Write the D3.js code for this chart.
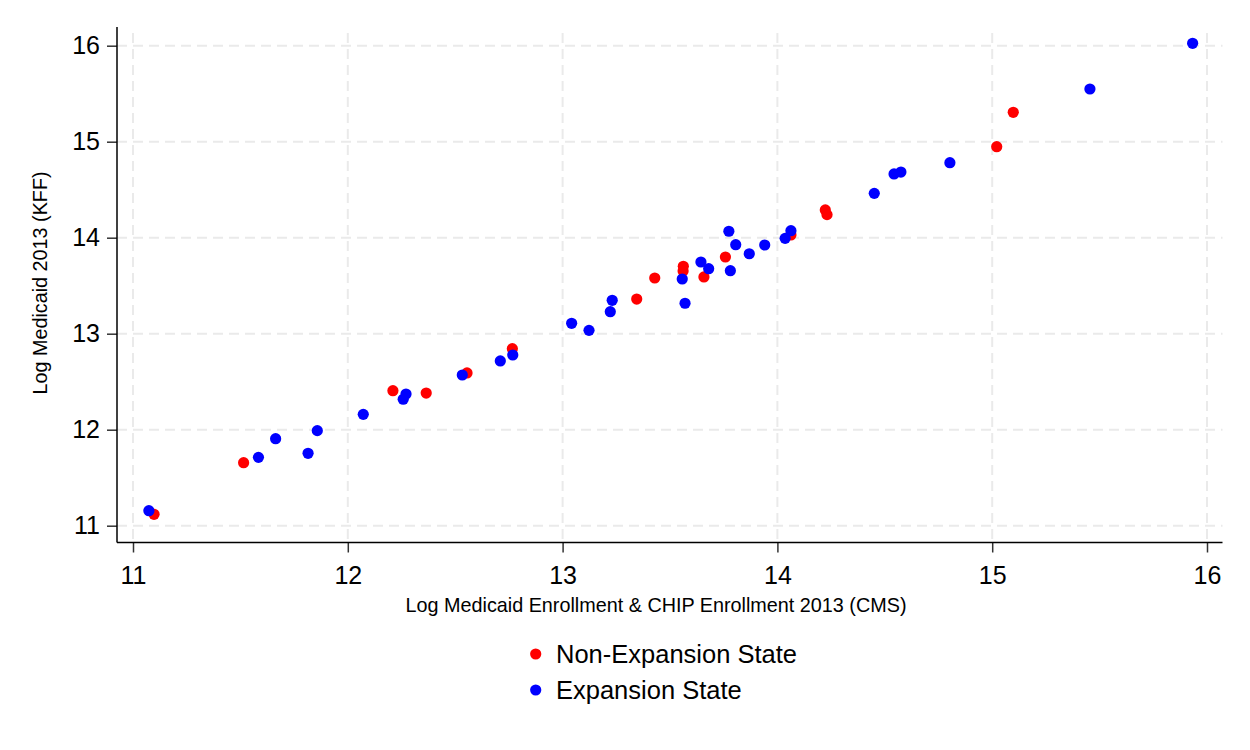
<!DOCTYPE html>
<html>
<head>
<meta charset="utf-8">
<script src="https://cdn.jsdelivr.net/npm/d3@7"></script>
<style>
  body { margin: 0; background: #fff; }
  text { font-family: "Liberation Sans", Arial, sans-serif; fill: #000; }
</style>
</head>
<body>
<div id="chart"></div>
<script>
var width = 1250;
var height = 750;

// Non-expansion states: [log CMS enrollment, log KFF medicaid]
var nonExpansion = [
    [11.098, 11.119], [11.515, 11.656], [12.210, 12.406], [12.365, 12.382],
    [12.555, 12.591], [12.766, 12.844], [13.345, 13.361], [13.429, 13.580],
    [13.562, 13.702], [13.561, 13.653], [13.658, 13.591], [13.758, 13.799],
    [14.063, 14.028], [14.223, 14.289], [14.231, 14.240], [15.021, 14.948],
    [15.098, 15.306]
];

// Expansion states
var expansion = [
    [11.074, 11.156], [11.584, 11.712], [11.664, 11.906], [11.815, 11.754],
    [11.858, 11.990], [12.072, 12.160], [12.271, 12.372], [12.258, 12.317],
    [12.533, 12.570], [12.710, 12.716], [12.768, 12.778], [13.042, 13.108],
    [13.123, 13.035], [13.222, 13.229], [13.231, 13.348], [13.557, 13.570],
    [13.570, 13.317], [13.644, 13.747], [13.680, 13.677], [13.774, 14.067],
    [13.806, 13.927], [13.781, 13.656], [13.869, 13.833], [13.941, 13.924],
    [14.036, 13.993], [14.063, 14.073], [14.451, 14.462], [14.543, 14.664],
    [14.575, 14.684], [14.803, 14.781], [15.455, 15.549], [15.933, 16.025]
];

var xTicks = [11, 12, 13, 14, 15, 16];
var yTicks = [11, 12, 13, 14, 15, 16];
var legendLabels = ["Non-Expansion State", "Expansion State"];
var colors = ["#ff0000", "#0000ff"];

var plotLeft = 117;
var plotRight = 1222.5;
var plotTop = 27;
var plotBottom = 542.5;

var x = d3.scaleLinear().domain([11, 16]).range([133, 1207]);
var y = d3.scaleLinear().domain([11, 16]).range([525.7, 45.7]);

var svg = d3.select("#chart")
            .append("svg")
            .attr("width", width)
            .attr("height", height);

// grid
svg.append("g")
    .selectAll("line")
    .data(xTicks)
    .join("line")
    .attr("x1", d => x(d))
    .attr("x2", d => x(d))
    .attr("y1", 33)
    .attr("y2", plotBottom)
    .attr("stroke", "#eaeaea")
    .attr("stroke-width", 2)
    .attr("stroke-dasharray", "10,6");

svg.append("g")
    .selectAll("line")
    .data(yTicks)
    .join("line")
    .attr("x1", plotLeft)
    .attr("x2", plotRight)
    .attr("y1", d => y(d))
    .attr("y2", d => y(d))
    .attr("stroke", "#eaeaea")
    .attr("stroke-width", 2)
    .attr("stroke-dasharray", "10,6");

// axes
var xAxis = svg.append("g")
            .attr("transform", "translate(0," + plotBottom + ")")
            .call(d3.axisBottom(x).tickValues(xTicks).tickFormat(d3.format("d"))
                .tickSize(10).tickPadding(14).tickSizeOuter(0));

var yAxis = svg.append("g")
            .attr("transform", "translate(" + plotLeft + ",0)")
            .call(d3.axisLeft(y).tickValues(yTicks).tickFormat(d3.format("d"))
                .tickSize(10).tickPadding(7).tickSizeOuter(0));

[xAxis, yAxis].forEach(function(a) {
    a.select(".domain").remove();
    a.selectAll(".tick line").attr("stroke", "#333").attr("stroke-width", 1.5);
    a.selectAll(".tick text")
        .style("font-size", "25px")
        .style("font-family", "'Liberation Sans', Arial, sans-serif")
        .attr("fill", "#000");
});

svg.append("line")
    .attr("x1", plotLeft).attr("x2", plotLeft)
    .attr("y1", plotTop).attr("y2", plotBottom)
    .attr("stroke", "#000").attr("stroke-width", 1.5);

svg.append("line")
    .attr("x1", plotLeft).attr("x2", plotRight)
    .attr("y1", plotBottom).attr("y2", plotBottom)
    .attr("stroke", "#000").attr("stroke-width", 1.5);

// points (blue drawn on top)
var series = [nonExpansion, expansion];
series.forEach(function(s, i) {
    svg.append("g")
        .selectAll("circle")
        .data(s)
        .join("circle")
        .attr("cx", d => x(d[0]))
        .attr("cy", d => y(d[1]))
        .attr("r", 5.6)
        .attr("fill", colors[i]);
});

// titles
svg.append("text")
    .attr("x", 656)
    .attr("y", 611.5)
    .attr("text-anchor", "middle")
    .style("font-size", "19.8px")
    .text("Log Medicaid Enrollment & CHIP Enrollment 2013 (CMS)");

svg.append("text")
    .attr("transform", "translate(47,283) rotate(-90)")
    .attr("text-anchor", "middle")
    .style("font-size", "19.8px")
    .text("Log Medicaid 2013 (KFF)");

// legend
var legend = svg.append("g")
            .selectAll("g")
            .data(legendLabels)
            .join("g")
            .attr("transform", (d, i) => "translate(0," + (i * 36) + ")");

legend.append("circle")
    .attr("cx", 535.7)
    .attr("cy", 654)
    .attr("r", 5.6)
    .attr("fill", (d, i) => colors[i]);

legend.append("text")
    .attr("x", 556)
    .attr("y", 663.3)
    .style("font-size", "25.5px")
    .text(d => d);
</script>
</body>
</html>
